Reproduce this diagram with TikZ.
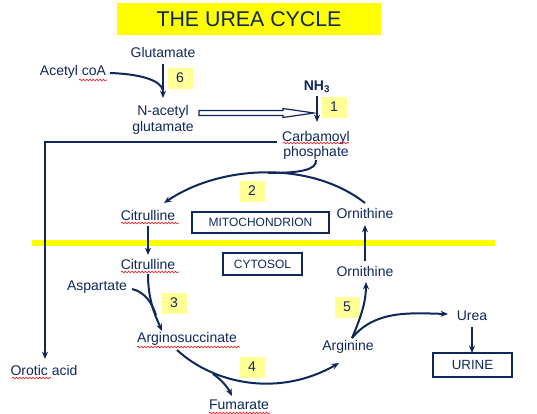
\documentclass[tikz,border=0pt]{standalone}
\usepackage{fontspec}
\setmainfont{Liberation Sans}
\usetikzlibrary{arrows.meta,decorations.pathmorphing}
\definecolor{navy}{RGB}{14,40,92}
\definecolor{ttl}{RGB}{255,255,0}
\definecolor{numfill}{RGB}{255,255,150}
\definecolor{spell}{RGB}{230,40,40}
\begin{document}
\begin{tikzpicture}[x=0.75pt,y=-0.75pt,
  lbl/.style={inner sep=0pt,text=navy,font=\fontsize{10.5}{12}\selectfont,align=center},
  numbox/.style={fill=numfill,inner sep=0pt,minimum width=18.75pt,minimum height=15.75pt,text=navy,font=\fontsize{10.5}{12}\selectfont},
  regbox/.style={draw=navy,line width=0.9pt,inner sep=0pt,text=navy},
  conn/.style={draw=navy,line width=1.5pt},
  arr/.style={conn,-{Stealth[length=5.5pt,width=4.5pt]}},
  wavy/.style={draw=spell,line width=0.5pt,decorate,decoration={snake,amplitude=0.6pt,segment length=2.5pt}}
]
\useasboundingbox (0,0) rectangle (537,414);
% title
\node[fill=ttl,minimum width=198pt,minimum height=24pt,inner sep=0pt,text=navy,font=\fontsize{16}{18}\selectfont] (title) at (249,19) {THE UREA CYCLE};
% membrane
\draw[ttl,line width=3.8pt] (32,243) -- (495,243);
% nodes
\node[lbl] (glu) at (163,52) {Glutamate};
\node[lbl] (acoa) at (73,72) {Acetyl coA};
\node[numbox] (n6) at (180,78) {6};
\node[lbl,font=\fontsize{10.5}{12}\selectfont] (nag) at (163,120) {N-acetyl\\glutamate};
\node[lbl,font=\fontsize{10.5}{12}\selectfont\bfseries] (nh3) at (317,87) {NH\textsubscript{3}};
\node[numbox] (n1) at (334,107) {1};
\node[lbl,font=\fontsize{10.5}{11.25}\selectfont] (carb) at (316,145) {Carbamoyl\\phosphate};
\node[numbox] (n2) at (252,191) {2};
\node[lbl] (cit1) at (148,215) {Citrulline};
\node[regbox,minimum width=102.75pt,minimum height=15.75pt,font=\fontsize{9}{11}\selectfont] (mito) at (260.5,222.5) {MITOCHONDRION};
\node[lbl] (orn1) at (365,213) {Ornithine};
\node[lbl] (cit2) at (148,264) {Citrulline};
\node[regbox,minimum width=59.25pt,minimum height=16.5pt,font=\fontsize{9}{11}\selectfont] (cyto) at (262.5,264) {CYTOSOL};
\node[lbl] (orn2) at (365,271) {Ornithine};
\node[lbl] (asp) at (97,287) {Aspartate};
\node[numbox] (n3) at (174,303) {3};
\node[lbl] (args) at (187,339) {Arginosuccinate};
\node[numbox] (n5) at (347,307) {5};
\node[lbl] (arg) at (348,347) {Arginine};
\node[lbl] (urea) at (472,316) {Urea};
\node[regbox,minimum width=59.25pt,minimum height=18pt,font=\fontsize{10}{12}\selectfont] (urine) at (472.5,365) {URINE};
\node[numbox] (n4) at (252,367) {4};
\node[lbl] (fum) at (239,405) {Fumarate};
\node[lbl] (oro) at (44,370) {Orotic acid};
% spell-check underlines
\draw[wavy] (79,80) -- (107,80);
\draw[wavy] (283,143) -- (349,143);
\draw[wavy] (121,223) -- (179,223);
\draw[wavy] (121,272) -- (179,272);
\draw[wavy] (137,347) -- (240,347);
\draw[wavy] (12,378) -- (51,378);
\draw[wavy] (209,413) -- (270,413);
% connector end points
\coordinate (gluS) at (163,64);
\coordinate (nagN) at (163,98);
\coordinate (j6) at (163,90);
\coordinate (acoaE) at (110,73);
\coordinate (nh3S) at (317,96);
\coordinate (carbN) at (317,122);
\coordinate (ol) at (277,142);
\coordinate (oroN) at (45,359);
\coordinate (orn1N) at (365,203);
\coordinate (cit1N) at (164,203);
\coordinate (carbS) at (316,160);
\coordinate (j2) at (268,173);
\coordinate (cit1S) at (148,226);
\coordinate (cit2N) at (148,255);
\coordinate (orn2N) at (365,261);
\coordinate (orn1S) at (365,225);
\coordinate (cit2S) at (148,274);
\coordinate (argsN) at (162,331);
\coordinate (aspE) at (132,289);
\coordinate (j3) at (156,315);
\coordinate (argsS) at (177,350);
\coordinate (argW) at (339,363);
\coordinate (j4) at (213,374);
\coordinate (fumN) at (232,396);
\coordinate (ja) at (352,338);
\coordinate (orn2S) at (366,282);
\coordinate (ureaW) at (448,314);
\coordinate (ureaS) at (472,327);
\coordinate (urineN) at (472,353);
% connectors
\draw[arr] (gluS) -- (nagN);
\draw[conn] (acoaE) .. controls (140,74) and (160,80) .. (j6);
\draw[navy,line width=0.9pt,fill=white] (199,110.5) -- (283,110.5) -- (283,108.5) -- (314,113) -- (283,117.5) -- (283,115.5) -- (199,115.5) -- cycle;
\draw[arr] (nh3S) -- (carbN);
\draw[arr] (ol) -| (oroN);
\draw[arr] (orn1N) .. controls (310,160) and (220,165) .. (cit1N);
\draw[conn] (carbS) .. controls (317,170) and (300,173) .. (j2);
\draw[arr] (cit1S) -- (cit2N);
\draw[arr] (orn2N) -- (orn1S);
\draw[arr] (cit2S) .. controls (148,300) and (155,315) .. (argsN);
\draw[conn] (aspE) .. controls (145,292) and (152,303) .. (j3);
\draw[arr] (argsS) .. controls (215,385) and (280,397) .. (argW);
\draw[arr] (j4) .. controls (222,380) and (228,388) .. (fumN);
\draw[arr] (ja) .. controls (362,315) and (366,300) .. (orn2S);
\draw[arr] (ja) .. controls (375,310) and (410,313) .. (ureaW);
\draw[arr] (ureaS) -- (urineN);
\end{tikzpicture}
\end{document}
